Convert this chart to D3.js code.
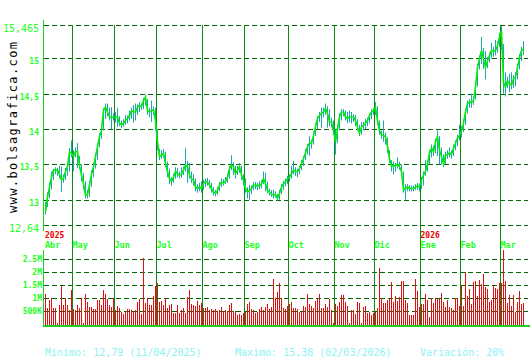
<!DOCTYPE html>
<html>
<head>
<meta charset="utf-8">
<script src="https://cdn.jsdelivr.net/npm/d3@7"></script>
<style>
  html, body { margin: 0; padding: 0; background: #fff; }
  svg { display: block; }
</style>
</head>
<body>
<script>
var
  // closing price per session, Apr 2025 .. Mar 2026
  closes = [
    12.83, 13.04, 13.18, 13.32, 13.42, 13.42, 13.42, 13.36, 13.28, 13.30,
    13.40, 13.47, 13.68, 13.66, 13.61, 13.68, 13.68, 13.49, 13.35, 13.23,
    13.07, 13.07, 13.21, 13.36, 13.47, 13.61, 13.75, 13.89, 13.98, 14.26,
    14.31, 14.24, 14.17, 14.16, 14.17, 14.17, 14.17, 14.08, 14.06, 14.08,
    14.12, 14.15, 14.19, 14.26, 14.24, 14.24, 14.31, 14.33, 14.32, 14.40,
    14.45, 14.26, 14.24, 14.26, 14.27, 14.12, 13.82, 13.61, 13.63, 13.66,
    13.51, 13.40, 13.30, 13.26, 13.32, 13.40, 13.37, 13.35, 13.36, 13.42,
    13.49, 13.47, 13.35, 13.30, 13.28, 13.18, 13.16, 13.18, 13.16, 13.23,
    13.26, 13.25, 13.21, 13.16, 13.11, 13.09, 13.13, 13.21, 13.25, 13.24,
    13.26, 13.32, 13.44, 13.49, 13.47, 13.37, 13.42, 13.47, 13.35, 13.28,
    13.16, 13.11, 13.13, 13.16, 13.21, 13.20, 13.20, 13.20, 13.23, 13.30,
    13.23, 13.13, 13.11, 13.08, 13.07, 13.07, 13.02, 13.09, 13.18, 13.23,
    13.25, 13.30, 13.32, 13.37, 13.42, 13.40, 13.40, 13.44, 13.51, 13.58,
    13.66, 13.75, 13.80, 13.80, 13.91, 14.03, 14.15, 14.19, 14.22, 14.24,
    14.29, 14.22, 14.10, 14.10, 13.98, 13.82, 14.00, 14.17, 14.24, 14.24,
    14.17, 14.15, 14.17, 14.17, 14.17, 14.12, 14.03, 13.94, 14.03, 14.05,
    14.08, 14.12, 14.19, 14.24, 14.26, 14.31, 14.12, 13.97, 13.92, 13.91,
    13.89, 13.75, 13.58, 13.47, 13.48, 13.48, 13.51, 13.47, 13.40, 13.14,
    13.16, 13.18, 13.16, 13.16, 13.16, 13.18, 13.20, 13.18, 13.28, 13.35,
    13.40, 13.51, 13.66, 13.73, 13.68, 13.82, 13.89, 13.70, 13.61, 13.51,
    13.63, 13.64, 13.66, 13.64, 13.73, 13.80, 13.87, 13.91, 13.98, 14.08,
    14.24, 14.36, 14.38, 14.38, 14.40, 14.59, 14.87, 14.99, 15.11, 14.99,
    14.87, 14.96, 15.04, 15.11, 15.10, 15.11, 15.18, 15.30, 15.38, 14.66,
    14.59, 14.68, 14.64, 14.62, 14.71, 14.73, 14.87, 15.01, 15.11, 15.13
  ],

  highs = [
    12.97, 13.10, 13.24, 13.40, 13.44, 13.46, 13.45, 13.48, 13.47, 13.36,
    13.45, 13.52, 13.73, 13.84, 13.70, 13.74, 13.80, 13.62, 13.50, 13.38,
    13.26, 13.14, 13.26, 13.42, 13.52, 13.65, 13.80, 13.94, 14.02, 14.30,
    14.36, 14.36, 14.30, 14.31, 14.22, 14.24, 14.30, 14.18, 14.12, 14.14,
    14.20, 14.19, 14.26, 14.30, 14.34, 14.36, 14.35, 14.38, 14.36, 14.44,
    14.48, 14.42, 14.30, 14.40, 14.32, 14.30, 14.00, 13.72, 13.70, 13.72,
    13.68, 13.54, 13.44, 13.32, 13.37, 13.46, 13.45, 13.40, 13.46, 13.47,
    13.73, 13.55, 13.52, 13.40, 13.36, 13.30, 13.22, 13.24, 13.26, 13.28,
    13.30, 13.31, 13.28, 13.24, 13.18, 13.14, 13.18, 13.25, 13.30, 13.29,
    13.32, 13.37, 13.48, 13.63, 13.53, 13.48, 13.48, 13.52, 13.48, 13.36,
    13.30, 13.18, 13.21, 13.20, 13.25, 13.25, 13.24, 13.26, 13.28, 13.40,
    13.38, 13.26, 13.16, 13.14, 13.14, 13.12, 13.08, 13.14, 13.22, 13.27,
    13.30, 13.34, 13.36, 13.48, 13.55, 13.46, 13.44, 13.48, 13.56, 13.62,
    13.72, 13.79, 13.90, 13.84, 13.96, 14.08, 14.18, 14.24, 14.30, 14.30,
    14.36, 14.32, 14.28, 14.16, 14.12, 14.00, 14.06, 14.22, 14.28, 14.28,
    14.26, 14.24, 14.26, 14.24, 14.21, 14.20, 14.14, 14.06, 14.10, 14.10,
    14.14, 14.16, 14.22, 14.28, 14.30, 14.38, 14.32, 14.12, 13.98, 14.12,
    13.95, 13.88, 13.70, 13.56, 13.54, 13.52, 13.60, 13.54, 13.50, 13.40,
    13.22, 13.22, 13.21, 13.20, 13.20, 13.22, 13.24, 13.23, 13.32, 13.40,
    13.56, 13.56, 13.70, 13.78, 13.76, 13.86, 13.98, 13.90, 13.74, 13.64,
    13.68, 13.70, 13.74, 13.70, 13.78, 13.84, 13.92, 14.06, 14.04, 14.14,
    14.28, 14.40, 14.42, 14.50, 14.45, 14.65, 14.92, 15.04, 15.30, 15.14,
    15.10, 15.02, 15.08, 15.22, 15.16, 15.26, 15.24, 15.36, 15.45, 15.20,
    14.80, 14.74, 14.78, 14.80, 14.76, 14.80, 14.92, 15.06, 15.16, 15.24
  ],

  lows = [
    12.79, 12.90, 13.02, 13.15, 13.28, 13.36, 13.34, 13.30, 13.11, 13.24,
    13.28, 13.34, 13.40, 13.60, 13.40, 13.60, 13.45, 13.44, 13.26, 13.15,
    13.02, 13.02, 13.04, 13.18, 13.32, 13.44, 13.56, 13.74, 13.86, 13.98,
    14.14, 14.18, 14.12, 14.00, 14.12, 14.09, 14.03, 14.04, 14.01, 14.03,
    14.06, 14.08, 14.12, 14.14, 14.09, 14.12, 14.20, 14.24, 14.27, 14.28,
    14.33, 14.20, 14.17, 14.10, 14.20, 13.98, 13.70, 13.56, 13.58, 13.60,
    13.46, 13.32, 13.22, 13.20, 13.24, 13.30, 13.32, 13.30, 13.31, 13.35,
    13.40, 13.24, 13.30, 13.24, 13.20, 13.12, 13.10, 13.12, 13.10, 13.14,
    13.18, 13.20, 13.16, 13.10, 13.06, 13.05, 13.07, 13.12, 13.18, 13.20,
    13.22, 13.24, 13.30, 13.42, 13.35, 13.30, 13.35, 13.38, 13.28, 13.20,
    13.10, 13.02, 13.00, 13.08, 13.14, 13.15, 13.14, 13.15, 13.16, 13.22,
    13.12, 13.09, 13.06, 13.04, 13.02, 13.03, 12.99, 13.00, 13.08, 13.14,
    13.19, 13.22, 13.26, 13.30, 13.36, 13.34, 13.32, 13.36, 13.42, 13.48,
    13.56, 13.64, 13.62, 13.72, 13.78, 13.90, 14.00, 14.10, 14.02, 14.16,
    14.20, 14.02, 14.04, 14.02, 13.92, 13.64, 13.80, 13.98, 14.12, 14.18,
    14.12, 14.08, 14.10, 14.08, 14.10, 14.04, 13.98, 13.90, 13.92, 13.98,
    14.00, 14.04, 14.08, 14.14, 14.20, 14.20, 14.06, 13.92, 13.86, 13.82,
    13.78, 13.66, 13.52, 13.40, 13.36, 13.40, 13.44, 13.42, 13.34, 13.10,
    13.00, 13.12, 13.12, 13.12, 13.12, 13.14, 13.14, 13.12, 13.15, 13.20,
    13.34, 13.40, 13.50, 13.60, 13.62, 13.66, 13.62, 13.50, 13.50, 13.46,
    13.50, 13.58, 13.60, 13.58, 13.62, 13.70, 13.76, 13.84, 13.88, 13.96,
    14.06, 14.22, 14.30, 14.30, 14.34, 14.42, 14.60, 14.84, 14.92, 14.85,
    14.70, 14.86, 14.94, 15.00, 15.02, 15.04, 15.08, 15.16, 15.12, 14.50,
    14.46, 14.58, 14.52, 14.56, 14.58, 14.60, 14.70, 14.84, 14.96, 15.04
  ],

  // volume in millions of shares
  volumes = [
    1.16, 0.61, 0.93, 1.00, 0.61, 0.61, 0.04, 0.74, 1.48, 0.74,
    1.00, 0.74, 0.55, 1.32, 0.60, 0.55, 0.74, 0.61, 1.03, 0.04,
    1.16, 0.87, 0.65, 0.65, 0.58, 0.58, 0.93, 0.93, 0.74, 1.32,
    1.16, 0.96, 0.74, 0.68, 1.00, 0.55, 0.70, 0.61, 0.48, 0.39,
    0.48, 0.58, 0.58, 0.55, 0.48, 0.55, 0.87, 0.96, 0.39, 2.54,
    0.81, 1.03, 0.74, 0.74, 1.09, 1.48, 1.60, 0.87, 0.90, 0.74,
    1.03, 0.61, 0.74, 0.78, 0.45, 0.45, 0.74, 0.42,
    0.55, 0.62, 0.42, 1.04, 1.32, 0.78, 0.74, 0.70, 0.91, 0.74,
    0.83, 0.61, 0.61, 0.65, 0.55, 0.59, 0.55, 0.59, 0.52, 0.55,
    0.65, 0.52, 0.55, 0.52, 0.74, 0.83, 0.52, 0.52, 0.36, 0.39,
    0.36, 0.45, 0.49, 0.78, 0.87, 0.58, 0.55, 0.42, 0.49, 0.58,
    0.65, 0.55, 0.65, 0.78, 0.58, 0.65, 1.74, 1.01, 1.26, 1.60,
    1.00, 0.61, 0.59, 0.70, 0.78, 0.87, 0.61, 0.63, 0.58, 0.49,
    0.49, 0.70, 0.68, 1.17, 0.78, 0.70, 0.63, 0.91, 0.96, 1.17,
    0.61, 0.61, 0.80, 0.68, 0.96, 0.55, 0.05, 0.78, 0.70, 0.87,
    1.12, 1.12, 0.87, 0.70,
    0.04, 0.55, 0.55, 0.39, 0.87, 0.83, 0.04, 0.68, 0.70, 0.45,
    0.48, 0.36, 0.45, 0.48, 0.61, 2.15, 1.00, 0.83, 0.83, 0.93,
    0.96, 1.64, 0.87, 1.09, 0.90, 1.06, 1.68, 1.68, 0.93, 0.83,
    0.36, 0.36, 0.36, 1.74, 1.28, 0.68, 0.77, 0.78, 1.16, 0.93,
    0.30, 1.00, 0.83, 1.00, 0.96, 0.96, 1.19, 0.87, 0.68, 0.93,
    0.68, 0.61, 0.55, 1.00, 1.00, 0.70, 1.50, 0.70, 2.00, 1.09,
    1.36, 0.78, 1.62, 1.68, 1.09, 1.70, 1.55, 1.94, 1.45, 1.35,
    0.87, 0.93, 1.46, 1.41, 1.36, 1.58, 1.58, 2.86, 1.68, 0.83,
    1.11, 0.70, 1.11, 0.48, 0.87, 1.28, 0.80, 0.83
  ],

  monthNames  = ['Abr', 'May', 'Jun', 'Jul', 'Ago', 'Sep', 'Oct', 'Nov', 'Dic', 'Ene', 'Feb', 'Mar'],
  monthStarts = [0, 14, 35, 56, 79, 100, 122, 145, 165, 188, 208, 228],
  yearNames   = ['2025', '2026'],
  yearStarts  = [0, 188],

  priceTicks  = [15.465, 15, 14.5, 14, 13.5, 13, 12.64],
  priceLabels = ['15,465', '15', '14,5', '14', '13,5', '13', '12,64'],
  volTicks    = [0.5, 1, 1.5, 2, 2.5],
  volLabels   = ['500K', '1M', '1.5M', '2M', '2.5M'],

  footer  = ['Minimo: 12,79 (11/04/2025)', 'Maximo: 15,38 (02/03/2026)', 'Variación: 20%'],
  footerX = [45, 235, 420],

  config = {
    w : 530,
    h : 360,
    left : 44,
    right : 528,
    font : '"DejaVu Sans Mono", "Liberation Mono", monospace'
  },

  crisp = function crisp(v) {
    return Math.round(v) + 0.5;
  },

  styleGrid = function styleGrid(axisG, scale) {
    axisG.select('.domain').remove();
    axisG.selectAll('.tick').attr('transform', function (d) { return 'translate(0,' + crisp(scale(d)) + ')'; });
    axisG.selectAll('.tick line')
      .attr('stroke', '#006400')
      .attr('stroke-dasharray', '5,3')
      .attr('shape-rendering', 'crispEdges');
  },

  draw = function draw() {
    var
      svg = d3.select('body').append('svg')
        .attr('width', config.w)
        .attr('height', config.h),
      idx = d3.range(closes.length),
      x   = d3.scaleLinear().domain([0, closes.length - 1]).range([45, 45 + 2 * (closes.length - 1)]),
      y   = d3.scaleLinear().domain([12.64, 15.465]).range([225.3, 25.3]),
      yv  = d3.scaleLinear().domain([0, 2.5]).range([324.3, 259.3]),
      gridW = config.right - config.left,
      isBig = function (i) { return i === 0 || i === priceTicks.length - 1; },
      priceAxis,
      volAxis,
      closeLine;

    svg.append('rect').attr('width', '100%').attr('height', '100%').attr('fill', '#fff');

    // price grid + labels
    priceAxis = svg.append('g')
      .attr('transform', 'translate(' + config.left + ',0)')
      .call(d3.axisLeft(y).tickValues(priceTicks).tickSize(-gridW)
        .tickFormat(function (d, i) { return priceLabels[i]; }));
    styleGrid(priceAxis, y);
    priceAxis.selectAll('.tick text')
      .attr('x', -5)
      .attr('dy', null)
      .attr('y', function (d, i) { return isBig(i) ? 6 : 5; })
      .attr('fill', '#22ff22')
      .attr('font-family', config.font)
      .attr('font-size', function (d, i) { return isBig(i) ? 10 : 8; })
      .attr('font-weight', function (d, i) { return isBig(i) ? 'normal' : 'bold'; });

    // volume grid + labels
    volAxis = svg.append('g')
      .attr('transform', 'translate(' + config.left + ',0)')
      .call(d3.axisLeft(yv).tickValues(volTicks).tickSize(-gridW).tickPadding(3)
        .tickFormat(function (d, i) { return volLabels[i]; }));
    styleGrid(volAxis, yv);
    volAxis.selectAll('.tick text')
      .attr('x', -2)
      .attr('fill', '#22ff22')
      .attr('font-family', config.font)
      .attr('font-size', 8)
      .attr('font-weight', 'bold');

    // month separators
    svg.append('g').selectAll('line')
      .data(monthStarts.slice(1))
      .enter().append('line')
      .attr('x1', function (d) { return crisp(x(d)) - 1; })
      .attr('x2', function (d) { return crisp(x(d)) - 1; })
      .attr('y1', 25)
      .attr('y2', 326)
      .attr('stroke', '#0b8a0b')
      .attr('shape-rendering', 'crispEdges');

    // left axis pieces
    svg.append('line').attr('x1', 43.5).attr('x2', 43.5).attr('y1', 20).attr('y2', 231)
      .attr('stroke', '#22cc22').attr('shape-rendering', 'crispEdges');
    svg.append('line').attr('x1', 43.5).attr('x2', 43.5).attr('y1', 250).attr('y2', 326)
      .attr('stroke', '#22cc22').attr('shape-rendering', 'crispEdges');

    // month and year labels
    svg.append('g').selectAll('text')
      .data(monthNames)
      .enter().append('text')
      .attr('x', function (d, i) { return i === 0 ? 45 : crisp(x(monthStarts[i])) - 1; })
      .attr('y', 247.5)
      .attr('fill', '#22ff22')
      .attr('font-family', config.font)
      .attr('font-size', 8.5)
      .attr('font-weight', 'bold')
      .text(function (d) { return d; });

    svg.append('g').selectAll('text')
      .data(yearNames)
      .enter().append('text')
      .attr('x', function (d, i) { return i === 0 ? 45 : crisp(x(yearStarts[i])) - 1; })
      .attr('y', 237.5)
      .attr('fill', '#ee0000')
      .attr('font-family', config.font)
      .attr('font-size', 8)
      .attr('font-weight', 'bold')
      .text(function (d) { return d; });

    // volume bars
    svg.append('g').selectAll('rect')
      .data(idx)
      .enter().append('rect')
      .attr('x', function (i) { return Math.round(x(i)); })
      .attr('width', 1)
      .attr('y', function (i) { return yv(volumes[i]); })
      .attr('height', function (i) { return 326 - yv(volumes[i]); })
      .attr('fill', '#e01010')
      .attr('shape-rendering', 'crispEdges');

    svg.append('line').attr('x1', 43).attr('x2', 530).attr('y1', 326).attr('y2', 326)
      .attr('stroke', '#22cc22').attr('stroke-width', 2);

    // high-low ticks
    svg.append('g').selectAll('line')
      .data(idx)
      .enter().append('line')
      .attr('x1', function (i) { return crisp(x(i)); })
      .attr('x2', function (i) { return crisp(x(i)); })
      .attr('y1', function (i) { return y(highs[i]); })
      .attr('y2', function (i) { return y(lows[i]); })
      .attr('stroke', '#1ea3b3');

    // close line
    closeLine = d3.line()
      .x(function (i) { return crisp(x(i)); })
      .y(function (i) { return y(closes[i]); });

    svg.append('path')
      .datum(idx)
      .attr('d', closeLine)
      .attr('fill', 'none')
      .attr('stroke', '#00ee00')
      .attr('stroke-width', 1.6);

    // watermark
    svg.append('text')
      .attr('transform', 'translate(17,213) rotate(-90)')
      .attr('font-family', config.font)
      .attr('font-size', 12)
      .attr('fill', '#000')
      .attr('textLength', 171)
      .attr('lengthAdjust', 'spacing')
      .text('www.bolsagrafica.com');

    // footer
    svg.append('g').selectAll('text')
      .data(footer)
      .enter().append('text')
      .attr('x', function (d, i) { return footerX[i]; })
      .attr('y', 356)
      .attr('fill', '#8cf2f2')
      .attr('font-family', config.font)
      .attr('font-size', 10)
      .text(function (d) { return d; });
  },

  init = function init() {
    draw();
  };

init();
</script>
</body>
</html>
